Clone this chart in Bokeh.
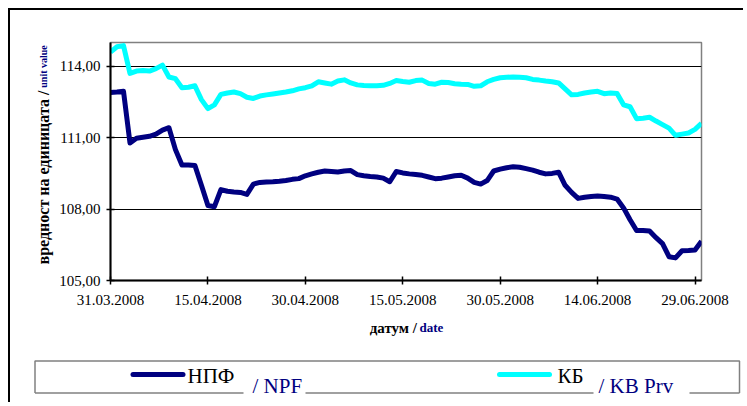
import pandas as pd
from bokeh.plotting import figure
from bokeh.models import Range1d, FixedTicker, DatetimeTickFormatter
from bokeh.layouts import row
from bokeh.core.properties import value
from bokeh.embed import file_html
from bokeh.resources import INLINE

# ---------------- data ----------------
dates = pd.date_range("2008-03-31", "2008-06-30", freq="D")

npf = [112.90, 112.92, 112.95, 110.78, 110.98, 111.02, 111.06, 111.15, 111.32, 111.42,
       110.50, 109.85, 109.85, 109.83, 109.00, 108.15, 108.10, 108.82, 108.75, 108.72,
       108.70, 108.62, 109.05, 109.12, 109.14, 109.15, 109.17, 109.20, 109.25, 109.28,
       109.40, 109.48, 109.55, 109.60, 109.58, 109.56, 109.60, 109.62, 109.45, 109.40,
       109.37, 109.35, 109.30, 109.15, 109.58, 109.52, 109.48, 109.45, 109.42, 109.35,
       109.28, 109.30, 109.35, 109.40, 109.42, 109.30, 109.12, 109.05, 109.20, 109.60,
       109.68, 109.74, 109.78, 109.76, 109.70, 109.64, 109.55, 109.48, 109.50, 109.55,
       109.00, 108.70, 108.45, 108.50, 108.53, 108.55, 108.53, 108.50, 108.42, 108.05,
       107.55, 107.10, 107.10, 107.08, 106.80, 106.55, 106.00, 105.95, 106.25, 106.26,
       106.28, 106.65]

kb = [114.60, 114.82, 114.87, 113.70, 113.80, 113.82, 113.80, 113.90, 114.05, 113.55,
      113.48, 113.10, 113.12, 113.18, 112.60, 112.22, 112.38, 112.82, 112.88, 112.92,
      112.85, 112.70, 112.65, 112.75, 112.80, 112.84, 112.88, 112.92, 112.97, 113.05,
      113.10, 113.18, 113.35, 113.30, 113.25, 113.38, 113.43, 113.30, 113.22, 113.19,
      113.18, 113.18, 113.20, 113.28, 113.40, 113.36, 113.33, 113.40, 113.42, 113.28,
      113.25, 113.33, 113.32, 113.27, 113.25, 113.24, 113.16, 113.18, 113.35, 113.45,
      113.52, 113.54, 113.55, 113.54, 113.52, 113.45, 113.42, 113.38, 113.35, 113.30,
      113.05, 112.80, 112.82, 112.88, 112.92, 112.95, 112.85, 112.88, 112.86, 112.38,
      112.30, 111.80, 111.82, 111.86, 111.70, 111.55, 111.40, 111.10, 111.15, 111.20,
      111.35, 111.60]

x_tick_labels = ["31.03.2008", "15.04.2008", "30.04.2008", "15.05.2008",
                 "30.05.2008", "14.06.2008", "29.06.2008"]
y_ticks = [105, 108, 111, 114]
y_tick_labels = ["105,00", "108,00", "111,00", "114,00"]

series_names = ["НПФ", "КБ"]
series_names_en = ["/ NPF", "/ KB Prv"]
series_colors = ["#000080", "#00FFFF"]

x_title = ["датум /", "date"]
y_title = ["вредност на единицата /", "unit value"]

# ---------------- settings ----------------
FONT = "Liberation Serif"
NAVY = "#000080"
X0, X1 = dates[0], dates[-1]
Y0, Y1 = 105, 115
TOP, BOTTOM = 32, 34          # frame borders (px) shared by the y-title strip and the chart
x_tick_ms = [pd.to_datetime(s, format="%d.%m.%Y").value // 10**6 for s in x_tick_labels]
y_range = Range1d(Y0, Y1)

# ---------------- y-axis title strip ----------------
yt = figure(width=48, height=304, x_range=Range1d(0, 48), y_range=y_range,
            min_border_left=0, min_border_right=0, min_border_top=TOP, min_border_bottom=BOTTOM,
            x_axis_location=None, y_axis_location=None, outline_line_color=None,
            toolbar_location=None, output_backend="svg",
            styles={"border-left": "2px solid black", "border-top": "2px solid black"})
yt.grid.visible = False
yt.text(x=[32.7], y=[112.98], text=[y_title[0]], angle=1.5707963,
        text_font=value(FONT), text_font_style="bold", text_font_size=value("16px"),
        text_color="black", text_align="right", text_baseline="middle")
yt.text(x=[32.7], y=[113.10], text=[y_title[1]], angle=1.5707963,
        text_font=value(FONT), text_font_style="bold", text_font_size=value("10px"),
        text_color=NAVY, text_align="left", text_baseline="middle")

# ---------------- main chart ----------------
p = figure(width=687, height=304, x_axis_type="datetime",
           x_range=Range1d(X0, X1), y_range=y_range,
           output_backend="svg", toolbar_location=None,
           min_border_left=53, min_border_right=42, min_border_top=TOP, min_border_bottom=BOTTOM,
           styles={"border-top": "2px solid black"})
p.background_fill_color = "white"
p.border_fill_color = "white"
p.outline_line_color = "#808080"
p.outline_line_width = 1.5

p.line(dates, kb, line_color=series_colors[1], line_width=5, line_join="round")
p.line(dates, npf, line_color=series_colors[0], line_width=5, line_join="round")

p.xgrid.visible = False
p.ygrid.ticker = FixedTicker(ticks=y_ticks[1:])
p.ygrid.grid_line_color = "black"
p.ygrid.grid_line_width = 1

p.xaxis.ticker = FixedTicker(ticks=x_tick_ms)
fmt = "%d.%m.%Y"
p.xaxis.formatter = DatetimeTickFormatter(milliseconds=fmt, seconds=fmt, minsec=fmt, minutes=fmt,
                                          hourmin=fmt, hours=fmt, days=fmt, months=fmt, years=fmt)
p.yaxis.ticker = FixedTicker(ticks=y_ticks)
p.yaxis.major_label_overrides = dict(zip(y_ticks, y_tick_labels))

for ax in (p.xaxis[0], p.yaxis[0]):
    ax.axis_line_color = "black"
    ax.axis_line_width = 2
    ax.major_tick_line_color = "black"
    ax.major_tick_line_width = 1.5
    ax.major_tick_in = 4
    ax.major_tick_out = 4
    ax.minor_tick_line_color = None
    ax.major_label_text_font = FONT
    ax.major_label_text_font_size = "15px"
    ax.major_label_text_color = "black"
p.xaxis.major_label_standoff = 10
p.yaxis.major_label_standoff = 6

top = row(yt, p, styles={"margin-left": "8px", "margin-top": "8px"})

# ---------------- x-axis title + legend strip ----------------
leg = figure(width=735, height=90, x_range=Range1d(0, 735), y_range=Range1d(90, 0),
             min_border=0, x_axis_location=None, y_axis_location=None,
             outline_line_color=None, toolbar_location=None, output_backend="svg",
             styles={"border-left": "2px solid black", "margin-left": "8px"})
leg.grid.visible = False
leg.text(x=[406.5], y=[15], text=[x_title[0]], text_font=value(FONT), text_font_style="bold",
         text_font_size=value("15px"), text_color="black",
         text_align="right", text_baseline="middle")
leg.text(x=[409], y=[15], text=[x_title[1]], text_font=value(FONT), text_font_style="bold",
         text_font_size=value("13px"), text_color=NAVY,
         text_align="left", text_baseline="middle")
leg.multi_line(xs=[[24.5, 24.5, 729, 729], [24.5, 233], [295, 583], [679, 729]],
               ys=[[80.5, 48.5, 48.5, 80.5], [80.5, 80.5], [80.5, 80.5], [80.5, 80.5]],
               line_color="#808080", line_width=1.5)
leg.segment(x0=[122.5, 489], y0=[62, 62], x1=[172.5, 539], y1=[62, 62],
            line_color=series_colors, line_width=5, line_cap="round")
leg.text(x=[177, 547], y=[63, 63], text=series_names, text_font=value(FONT),
         text_font_size=value("21px"), text_color="black",
         text_align="left", text_baseline="middle")
leg.text(x=[242, 588], y=[73, 73], text=series_names_en, text_font=value(FONT),
         text_font_size=value("21px"), text_color=NAVY,
         text_align="left", text_baseline="middle")

open("out.html", "w").write(file_html([top, leg], INLINE))
